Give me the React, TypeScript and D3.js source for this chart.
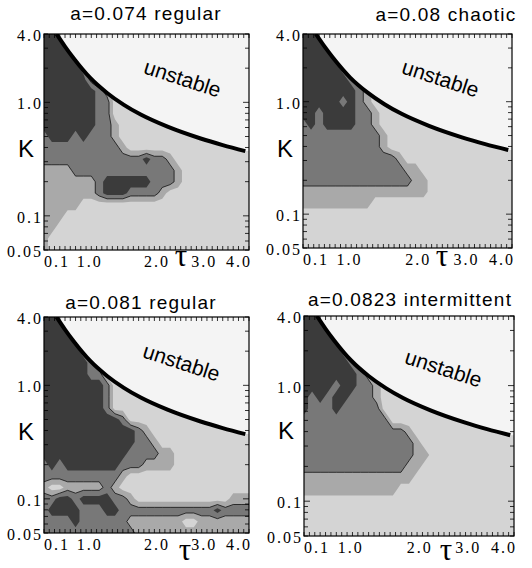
import { useMemo } from "react";
import * as d3 from "d3";

const W = 532;
const H = 568;

const TITLES = ["a=0.074 regular", "a=0.08 chaotic", "a=0.081 regular", "a=0.0823 intermittent"];

const TAU_TICK_LABELS = ["0.1", "1.0", "2.0", "3.0", "4.0"];
// the original figure sets its tau labels a little off the ticks; these are the tau values they sit at
const TAU_LABEL_AT = [0.1, 0.97, 2.25, 3.15, 4.0];
const K_TICK_VALUES = [4, 1, 0.1, 0.05];
const K_TICK_LABELS = ["4.0", "1.0", "0.1", "0.05"];

// stability boundary (same curve in every panel)
const BOUNDARY_TAU = [0.34, 0.5, 0.66, 0.98, 1.3, 1.62, 1.94, 2.45, 3.08, 3.5, 3.93];
const BOUNDARY_K = [4.0, 3.1, 2.46, 1.64, 1.21, 0.95, 0.78, 0.61, 0.48, 0.42, 0.372];

// gray level on a grid: column c -> tau = 0.1 + 0.15c, row r -> log10 K = 0.6 - 0.1r
// 0 light, 1 mid-light, 2 mid, 3 dark
const GRID_TAU0 = 0.1;
const GRID_DTAU = 0.15;
const GRID_LOGK0 = 0.6;
const GRID_DLOGK = 0.1;

const GRID_074 = [
  "333300000000000000000000000",
  "333330000000000000000000000",
  "333333000000000000000000000",
  "333332100000000000000000000",
  "333333100000000000000000000",
  "333333321000000000000000000",
  "333333322000000000000000000",
  "333333322000000000000000000",
  "333333322100000000000000000",
  "233323222100000000000000000",
  "222222222210000000000000000",
  "222222222222232210000000000",
  "111122222222222221000000000",
  "111111123333332221000000000",
  "111111123332222100000000000",
  "111110000000000000000000000",
  "111000000000000000000000000",
  "110000000000000000000000000",
  "100000000000000000000000000",
  "100000000000000000000000000",
];

const GRID_080 = [
  "333300000000000000000000000",
  "333330000000000000000000000",
  "333333000000000000000000000",
  "333332100000000000000000000",
  "333333210000000000000000000",
  "333333321000000000000000000",
  "333332321000000000000000000",
  "332333322100000000000000000",
  "232333322100000000000000000",
  "222222222210000000000000000",
  "222222222210000000000000000",
  "222222222222100000000000000",
  "222222222222211000000000000",
  "222222222222221100000000000",
  "111111111111111100000000000",
  "111111111000000000000000000",
  "000000000000000000000000000",
  "000000000000000000000000000",
  "000000000000000000000000000",
  "000000000000000000000000000",
];

const GRID_081 = [
  "333300000000000000000000000",
  "333330000000000000000000000",
  "333333000000000000000000000",
  "333332100000000000000000000",
  "333333210000000000000000000",
  "333333220000000000000000000",
  "333333332000000000000000000",
  "333333332000000000000000000",
  "333333332000000000000000000",
  "333333333320000000000000000",
  "333333333333210000000000000",
  "333333333333221000000000000",
  "333333333332222110000000000",
  "232333333322211110000000000",
  "222222222210000000000000000",
  "100111112100000000000000000",
  "223323333221000000000000111",
  "233332223322222222222232222",
  "222232222221111111001111111",
  "222222222222111111111111111",
];

const GRID_0823 = [
  "333300000000000000000000000",
  "333330000000000000000000000",
  "333333000000000000000000000",
  "333332100000000000000000000",
  "333333210000000000000000000",
  "333333321000000000000000000",
  "333323322100000000000000000",
  "323233222100000000000000000",
  "322232222200000000000000000",
  "222222222220000000000000000",
  "222222222222210000000000000",
  "222222222222221000000000000",
  "222222222222221100000000000",
  "222222222222211000000000000",
  "111111111111110000000000000",
  "111111111111000000000000000",
  "000000000000000000000000000",
  "000000000000000000000000000",
  "000000000000000000000000000",
  "000000000000000000000000000",
];

const GRIDS = [GRID_074, GRID_080, GRID_081, GRID_0823];

const LEVEL_FILL = ["#d4d4d4", "#a9a9a9", "#787878", "#3b3b3b"];
const UNSTABLE_FILL = "#f4f4f4";

// panel placement in the page
const LAYOUT = [
  { x0: 44, x1: 249, y0: 34, y1: 250, titleX: 146, titleY: 20, labelX: 182, labelY: 80, tauX: 181, tauY: 266 },
  { x0: 303, x1: 512, y0: 34, y1: 248, titleX: 446, titleY: 21, labelX: 440, labelY: 80, tauX: 442, tauY: 266 },
  { x0: 44, x1: 249, y0: 317, y1: 533, titleX: 141, titleY: 309, labelX: 181, labelY: 364, tauX: 185, tauY: 560 },
  { x0: 304, x1: 514, y0: 316, y1: 536, titleX: 410, titleY: 306, labelX: 443, labelY: 370, tauX: 446, tauY: 560 },
];

const SANS = "'Liberation Sans', Arial, Helvetica, sans-serif";
const SERIF = "'Liberation Serif', 'Times New Roman', serif";

function Panel({ idx }: { idx: number }) {
  const b = LAYOUT[idx];
  const grid = GRIDS[idx];

  const { x, y, contours, path, curveD, areaD, tauTicks, kTicks } = useMemo(() => {
    const x = d3.scaleLinear().domain([0.1, 4]).range([b.x0, b.x1]);
    const y = d3.scaleLog().domain([0.05, 4]).range([b.y1, b.y0]);
    const nx = grid[0].length;
    const ny = grid.length;
    const values = grid.join("").split("").map(Number);
    const contours = d3.contours().size([nx, ny]).thresholds([0.5, 1.5, 2.5])(values);
    const proj = d3.geoTransform({
      point(u: number, v: number) {
        const tau = GRID_TAU0 + (u - 0.5) * GRID_DTAU;
        const k = Math.pow(10, GRID_LOGK0 - (v - 0.5) * GRID_DLOGK);
        (this as any).stream.point(x(tau), y(k));
      },
    });
    const path = d3.geoPath(proj);
    const pts: [number, number][] = BOUNDARY_TAU.map((t, i) => [x(t), y(BOUNDARY_K[i])]);
    const curveD = d3.line().curve(d3.curveMonotoneX)(pts) || "";
    const last = pts[pts.length - 1];
    const areaPts: [number, number][] = [...pts, [b.x1 + 2, last[1]]];
    const areaD =
      d3
        .area<[number, number]>()
        .x((d) => d[0])
        .y0(b.y0 - 2)
        .y1((d) => d[1])
        .curve(d3.curveMonotoneX)(areaPts) || "";
    const tauTicks = d3.range(1, 41).map((i) => i / 10);
    const kTicks = y.ticks();
    return { x, y, contours, path, curveD, areaD, tauTicks, kTicks };
  }, [idx]);

  const clipId = `clip-${idx}`;
  const isMajorK = (k: number) => Math.abs(k - 0.1) < 1e-9 || Math.abs(k - 1) < 1e-9;

  return (
    <g>
      <defs>
        <clipPath id={clipId}>
          <rect x={b.x0} y={b.y0} width={b.x1 - b.x0} height={b.y1 - b.y0} />
        </clipPath>
      </defs>
      <g clipPath={`url(#${clipId})`}>
        <rect x={b.x0} y={b.y0} width={b.x1 - b.x0} height={b.y1 - b.y0} fill={LEVEL_FILL[0]} />
        {contours.map((c, i) => (
          <path key={i} d={path(c as any) || ""} fill={LEVEL_FILL[i + 1]} fillRule="evenodd" />
        ))}
        <path d={path(contours[1] as any) || ""} fill="none" stroke="#000" strokeWidth={0.7} />
        <path d={areaD} fill={UNSTABLE_FILL} />
        <path d={curveD} fill="none" stroke="#000" strokeWidth={4} />
      </g>

      {/* ticks */}
      {tauTicks.map((t) => (
        <g key={`t${t}`}>
          <line x1={x(t)} x2={x(t)} y1={b.y1} y2={b.y1 - 4} stroke="#000" strokeWidth={0.8} />
          <line x1={x(t)} x2={x(t)} y1={b.y0} y2={b.y0 + 4} stroke="#000" strokeWidth={0.8} />
        </g>
      ))}
      {kTicks.map((k) => {
        const len = isMajorK(k) ? 6 : 4;
        return (
          <g key={`k${k}`}>
            <line x1={b.x0} x2={b.x0 + len} y1={y(k)} y2={y(k)} stroke="#000" strokeWidth={0.8} />
            <line x1={b.x1} x2={b.x1 - len} y1={y(k)} y2={y(k)} stroke="#000" strokeWidth={0.8} />
          </g>
        );
      })}
      <rect x={b.x0} y={b.y0} width={b.x1 - b.x0} height={b.y1 - b.y0} fill="none" stroke="#000" strokeWidth={1.2} />

      {/* tick labels */}
      {TAU_LABEL_AT.map((t, i) => (
        <text
          key={`tl${i}`}
          x={x(t) + (i === TAU_LABEL_AT.length - 1 ? 3 : 0)}
          y={b.y1 + 17}
          textAnchor={i === 0 ? "start" : i === TAU_LABEL_AT.length - 1 ? "end" : "middle"}
          fontFamily={SERIF}
          fontSize={16}
          letterSpacing={2}
          fill="#000"
        >
          {TAU_TICK_LABELS[i]}
        </text>
      ))}
      {K_TICK_VALUES.map((k, i) => (
        <text
          key={`kl${i}`}
          x={b.x0 - 1}
          y={y(k) + 7}
          textAnchor="end"
          fontFamily={SERIF}
          fontSize={16}
          letterSpacing={2}
          fill="#000"
        >
          {K_TICK_LABELS[i]}
        </text>
      ))}

      {/* axis names */}
      <text x={b.x0 - 26} y={b.y0 + 123} fontFamily={SANS} fontSize={24} fill="#000">
        K
      </text>
      <text x={b.tauX} y={b.tauY} textAnchor="middle" fontFamily={SERIF} fontSize={31} fill="#000">
        τ
      </text>

      <text
        x={b.titleX}
        y={b.titleY}
        textAnchor="middle"
        fontFamily={SANS}
        fontSize={19}
        letterSpacing={1.2}
        fill="#000"
      >
        {TITLES[idx]}
      </text>
      <text
        transform={`translate(${b.labelX},${b.labelY}) rotate(18)`}
        textAnchor="middle"
        dominantBaseline="middle"
        fontFamily={SANS}
        fontSize={21}
        fill="#000"
      >
        unstable
      </text>
    </g>
  );
}

export default function App() {
  return (
    <svg
      width={W}
      height={H}
      viewBox={`0 0 ${W} ${H}`}
      style={{ position: "absolute", left: 0, top: 0, background: "#fff" }}
    >
      {TITLES.map((_, i) => (
        <Panel key={i} idx={i} />
      ))}
    </svg>
  );
}
